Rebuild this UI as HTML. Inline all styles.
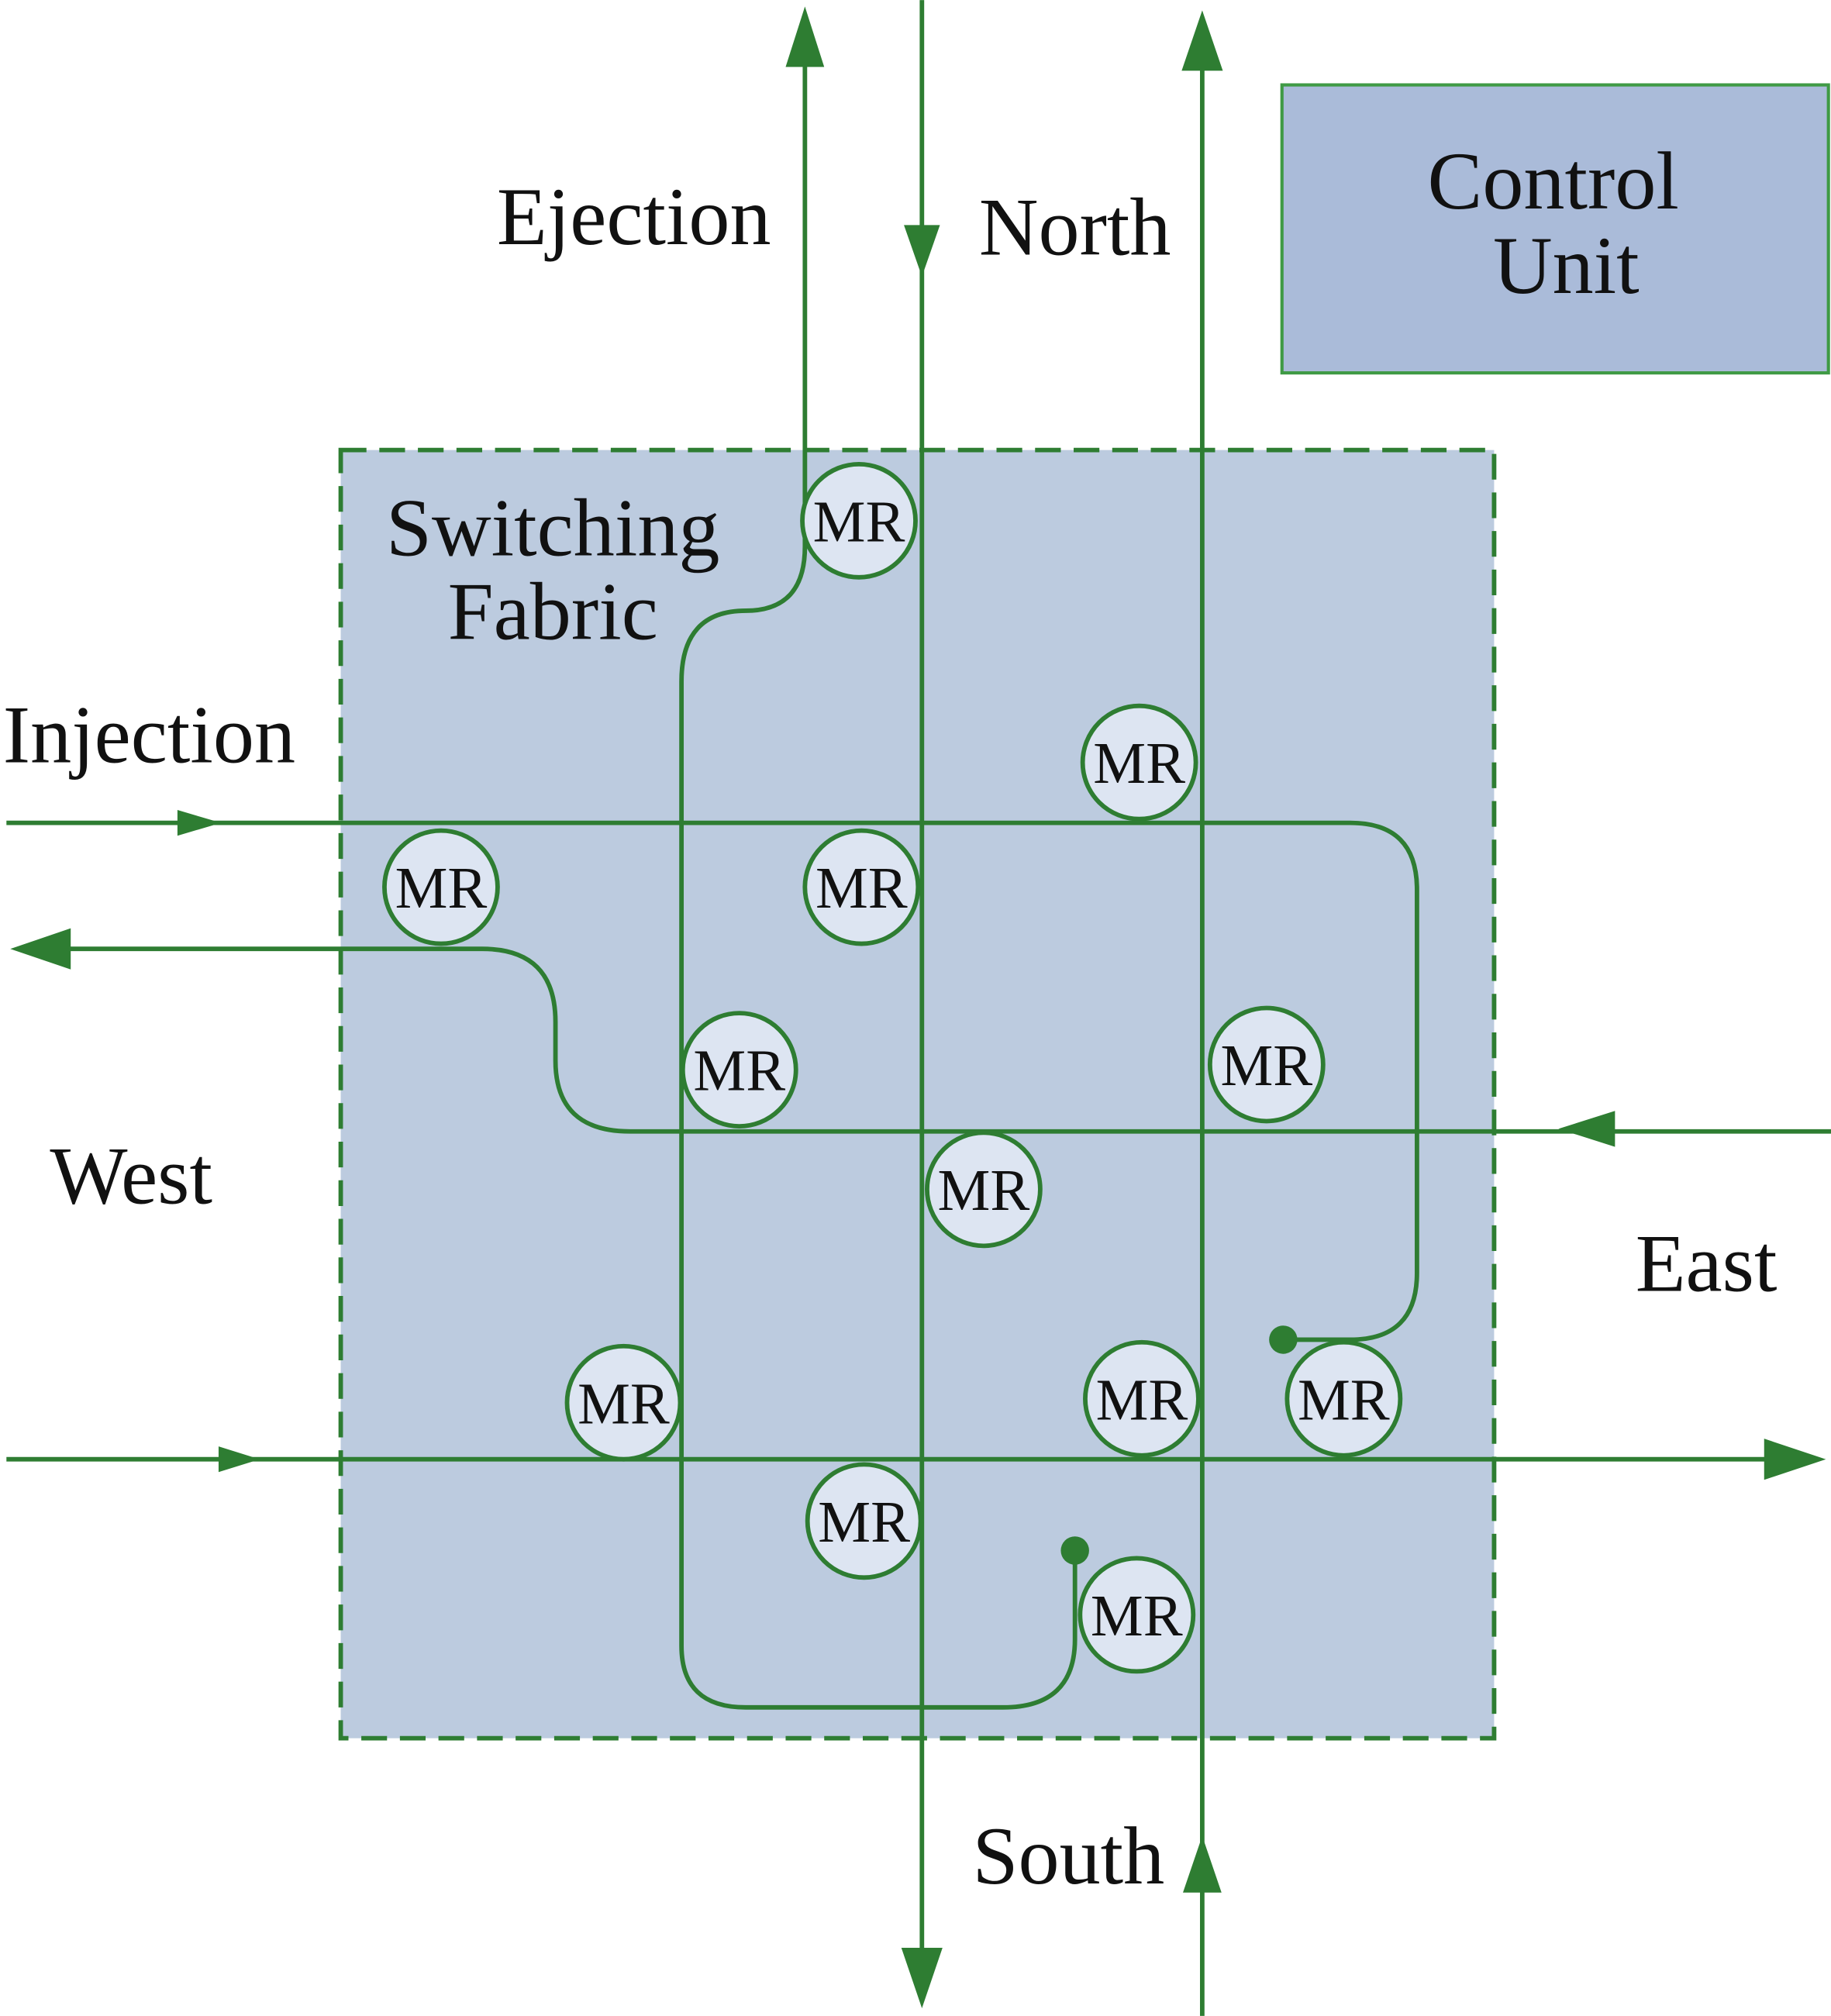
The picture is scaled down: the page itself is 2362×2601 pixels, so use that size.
<!DOCTYPE html>
<html><head><meta charset="utf-8"><style>
html,body{margin:0;padding:0;background:#fff;}
svg{display:block;}
text{font-family:"Liberation Serif",serif;fill:#111;}
</style></head><body>
<svg width="2362" height="2601" viewBox="0 0 1424 1568" xmlns="http://www.w3.org/2000/svg">
<rect x="0" y="0" width="1424" height="1568" fill="#fff"/>
<rect x="997" y="66" width="425" height="224" fill="#aabbd9" stroke="#3f9a45" stroke-width="2.5"/>
<text x="1208" y="162" font-size="64" text-anchor="middle">Control</text>
<text x="1218" y="228" font-size="64" text-anchor="middle">Unit</text>
<rect x="265" y="350" width="897" height="1002" fill="#bccbdf" stroke="#2e7d32" stroke-width="3.5" stroke-dasharray="20,10"/>
<text x="430" y="432" font-size="64" text-anchor="middle">Switching</text>
<text x="430" y="497" font-size="64" text-anchor="middle">Fabric</text>
<g fill="none" stroke="#2e7d32" stroke-width="3.5">
<line x1="717" y1="0" x2="717" y2="1530"/>
<line x1="935" y1="40" x2="935" y2="1568"/>
<path d="M626,40 V425 Q626,475 580,475 Q530,475 530,530 V1280 Q530,1328 580,1328 H780 Q836,1328 836,1275 V1206"/>
<path d="M5,640 H1050 Q1102,640 1102,692 V990 Q1102,1042 1050,1042 H998"/>
<path d="M40,738 H375 Q432,738 432,795 V825 Q432,880 490,880 H1424"/>
<line x1="5" y1="1135" x2="1390" y2="1135"/>
</g>
<g fill="#2e7d32">
<polygon points="626,5 611,52 641,52"/>
<polygon points="717,215 703,175 731,175"/>
<polygon points="717,1562 701,1515 733,1515"/>
<polygon points="935,8 919,55 951,55"/>
<polygon points="935,1428 920,1472 950,1472"/>
<polygon points="172,640 138,630 138,650"/>
<polygon points="8,738 55,722 55,754"/>
<polygon points="1212,878 1256,864 1256,892"/>
<polygon points="202,1135 170,1125 170,1145"/>
<polygon points="1420,1135 1372,1119 1372,1151"/>
<circle cx="998" cy="1042" r="11"/>
<circle cx="836" cy="1206" r="11"/>
</g>
<g fill="#dde5f2" stroke="#2e7d32" stroke-width="3.5">
<circle cx="668" cy="405" r="44"/>
<circle cx="886" cy="593" r="44"/>
<circle cx="343" cy="690" r="44"/>
<circle cx="670" cy="690" r="44"/>
<circle cx="575" cy="832" r="44"/>
<circle cx="985" cy="828" r="44"/>
<circle cx="765" cy="925" r="44"/>
<circle cx="485" cy="1091" r="44"/>
<circle cx="888" cy="1088" r="44"/>
<circle cx="1045" cy="1088" r="44"/>
<circle cx="672" cy="1183" r="44"/>
<circle cx="884" cy="1256" r="44"/>
</g>
<g font-size="46" text-anchor="middle">
<text x="668" y="421">MR</text>
<text x="886" y="609">MR</text>
<text x="343" y="706">MR</text>
<text x="670" y="706">MR</text>
<text x="575" y="848">MR</text>
<text x="985" y="844">MR</text>
<text x="765" y="941">MR</text>
<text x="485" y="1107">MR</text>
<text x="888" y="1104">MR</text>
<text x="1045" y="1104">MR</text>
<text x="672" y="1199">MR</text>
<text x="884" y="1272">MR</text>
</g>
<g font-size="64" text-anchor="middle">
<text x="493" y="190">Ejection</text>
<text x="836" y="198">North</text>
<text x="116" y="593">Injection</text>
<text x="102" y="936">West</text>
<text x="1327" y="1004">East</text>
<text x="831" y="1465">South</text>
</g>
</svg>
</body></html>
